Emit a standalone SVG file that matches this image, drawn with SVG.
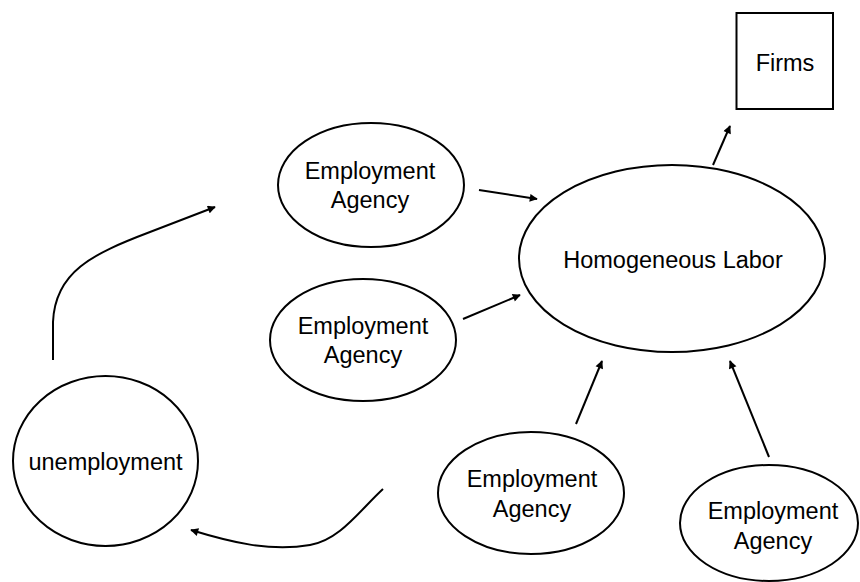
<svg xmlns="http://www.w3.org/2000/svg" width="860" height="582" viewBox="0 0 860 582">
<defs>
<marker id="ah" viewBox="0 0 10 10" refX="9" refY="5" markerWidth="10" markerHeight="8" markerUnits="userSpaceOnUse" orient="auto">
<path d="M0,0 L10,5 L0,10 z" fill="#000"/>
</marker>
<style>
.n{fill:#fff;stroke:#000;stroke-width:2}
.t{font-family:"Liberation Sans",Arial,sans-serif;font-size:23.5px;fill:#000;text-anchor:middle}
.c{fill:none;stroke:#000;stroke-width:2;marker-end:url(#ah)}
</style>
</defs>
<rect width="860" height="582" fill="#fff"/>
<g id="connectors">
<path class="c" d="M713,165 L730,126"/>
<path class="c" d="M479,190 L537,199"/>
<path class="c" d="M463,319 L520,295"/>
<path class="c" d="M576,424 L602,361"/>
<path class="c" d="M769,457 L730,361"/>
<path class="c" d="M53,360 L53,322 C55,272 92,254 150,232 L215,207"/>
<path class="c" d="M383,489 C360,510 340,540 310,545 C270,552 230,542 191,530"/>
</g>
<g id="firms">
<rect class="n" x="736.5" y="13" width="96.5" height="96"/>
<text class="t" x="785" y="71">Firms</text>
</g>
<g id="labor">
<ellipse class="n" cx="672" cy="258.5" rx="153" ry="93.5"/>
<text class="t" x="673" y="268">Homogeneous Labor</text>
</g>
<g id="agency1">
<ellipse class="n" cx="371" cy="185" rx="93" ry="62"/>
<text class="t" x="370" y="179">Employment</text>
<text class="t" x="370" y="208">Agency</text>
</g>
<g id="agency2">
<ellipse class="n" cx="363" cy="340" rx="93" ry="61"/>
<text class="t" x="363" y="334">Employment</text>
<text class="t" x="363" y="363">Agency</text>
</g>
<g id="agency3">
<ellipse class="n" cx="531" cy="493" rx="93" ry="61"/>
<text class="t" x="532" y="487">Employment</text>
<text class="t" x="532" y="517">Agency</text>
</g>
<g id="agency4">
<ellipse class="n" cx="769" cy="523" rx="89" ry="58"/>
<text class="t" x="773" y="519">Employment</text>
<text class="t" x="773" y="549">Agency</text>
</g>
<g id="unemployment">
<ellipse class="n" cx="105.5" cy="461" rx="92.5" ry="85"/>
<text class="t" x="105.5" y="470">unemployment</text>
</g>
</svg>
